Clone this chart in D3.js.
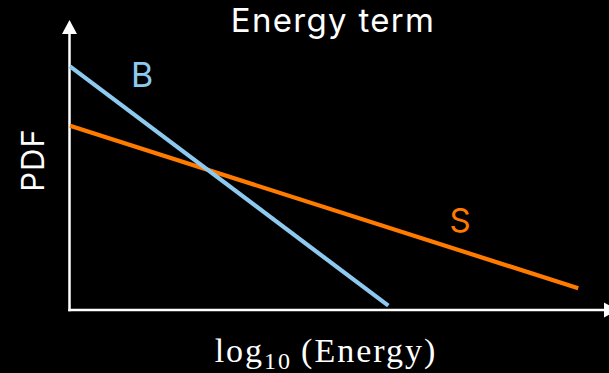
<!DOCTYPE html>
<html><head><meta charset="utf-8">
<script src="https://cdn.jsdelivr.net/npm/d3@7"></script>
<style>html,body{margin:0;padding:0;background:#000;overflow:hidden;}</style>
</head><body>
<script>
// Data (x: log10 Energy, y: PDF, arbitrary units)
const seriesNames = ["B", "S"];
const bX = [0, 5.95];
const bY = [8.4, 0.15];
const sX = [0, 9.5];
const sY = [6.35, 0.75];
const title = "Energy term";
const yLabel = "PDF";

const W = 609, H = 373;
const svg = d3.select("body").append("svg").attr("width", W).attr("height", H)
  .style("background", "#000");

const x = d3.scaleLinear().domain([0, 10]).range([70, 605]);
const y = d3.scaleLinear().domain([0, 10]).range([310, 20]);

// axes
const axisColor = "#fff";
svg.append("line").attr("x1", x(0) - 0.5).attr("x2", x(0) - 0.5)
  .attr("y1", y(0) + 1.2).attr("y2", y(10) + 12)
  .attr("stroke", axisColor).attr("stroke-width", 2.5);
svg.append("line").attr("x1", x(0) - 1.7).attr("x2", x(10))
  .attr("y1", y(0)).attr("y2", y(0))
  .attr("stroke", axisColor).attr("stroke-width", 2.5);
// arrowheads
svg.append("path")
  .attr("d", `M${x(0)-0.5},${y(10)} L${x(0)-8},${y(10)+14} L${x(0)+7},${y(10)+14} Z`)
  .attr("fill", axisColor);
svg.append("path")
  .attr("d", `M${x(10)-1},${y(0)-7.5} L${x(10)+13},${y(0)} L${x(10)-1},${y(0)+7.5} Z`)
  .attr("fill", axisColor);

const line = d3.line().x(d => x(d[0])).y(d => y(d[1]));
const bData = bX.map((v, i) => [v, bY[i]]);
const sData = sX.map((v, i) => [v, sY[i]]);
const colors = { B: "#8ecaf0", S: "#ff7b00" };

svg.append("path").datum(sData).attr("d", line)
  .attr("fill", "none").attr("stroke", colors.S).attr("stroke-width", 4.2);
svg.append("path").datum(bData).attr("d", line)
  .attr("fill", "none").attr("stroke", colors.B).attr("stroke-width", 4.2);

const sans = "Inter, 'Noto Sans', sans-serif";
svg.append("text").attr("x", 142).attr("y", 87).attr("text-anchor", "middle")
  .attr("font-family", sans).attr("font-size", 34).attr("font-weight", 400)
  .attr("fill", colors.B).text(seriesNames[0]);
svg.append("text").attr("x", 460).attr("y", 232).attr("text-anchor", "middle")
  .attr("font-family", sans).attr("font-size", 33).attr("font-weight", 400)
  .attr("fill", colors.S).text(seriesNames[1]);

svg.append("text").attr("x", 333).attr("y", 32).attr("text-anchor", "middle")
  .attr("font-family", sans).attr("font-size", 33).attr("font-weight", 400)
  .attr("letter-spacing", 1.3)
  .attr("fill", "#fff").text(title);

svg.append("text").attr("transform", "translate(44,160) rotate(-90)")
  .attr("text-anchor", "middle")
  .attr("font-family", sans).attr("font-size", 31).attr("font-weight", 400)
  .attr("letter-spacing", 1)
  .attr("fill", "#fff").text(yLabel);

// x label: log10 (Energy)
const xl = svg.append("text").attr("x", 326).attr("y", 362).attr("text-anchor", "middle")
  .attr("font-family", "'Liberation Serif', 'DejaVu Serif', serif").attr("font-size", 34)
  .attr("letter-spacing", 2)
  .attr("fill", "#fff");
xl.append("tspan").text("log");
xl.append("tspan").attr("font-size", 24).attr("dy", 7).text("10");
xl.append("tspan").attr("dy", -7).attr("dx", 9).text("(Energy)");
</script>
</body></html>
